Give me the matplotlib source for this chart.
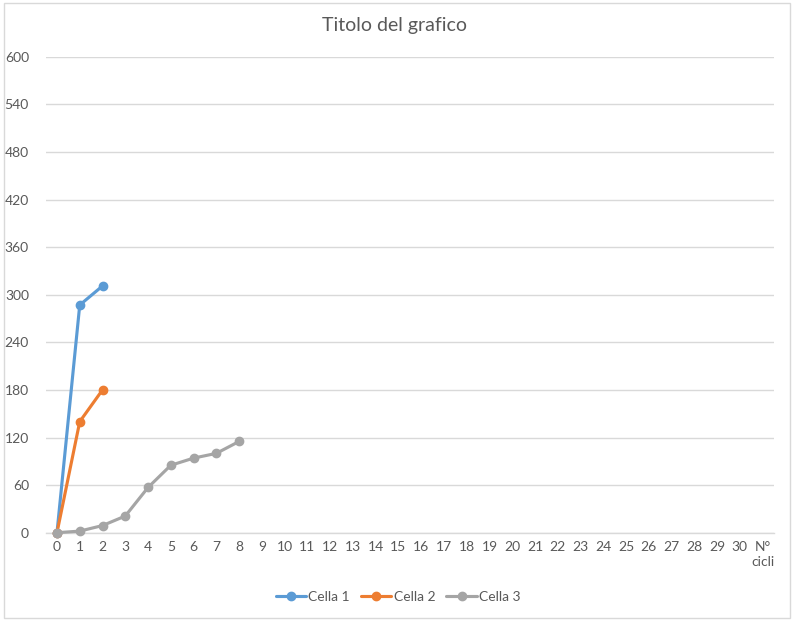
import matplotlib
matplotlib.use("Agg")
import matplotlib.pyplot as plt
from matplotlib.patches import Rectangle

plt.rcParams['font.family'] = ['Lato', 'DejaVu Sans']

categories = [str(i) for i in range(31)] + ["N°\ncicli"]
cella1 = [0, 287, 311]
cella2 = [0, 140, 180]
cella3 = [0, 2, 9, 21, 57, 85, 94, 100, 115]
series_names = ["Cella 1", "Cella 2", "Cella 3"]
series_colors = ["#5B9BD5", "#ED7D31", "#A5A5A5"]
yticks = list(range(0, 601, 60))
title = "Titolo del grafico"

fig = plt.figure(figsize=(7.95, 6.21), dpi=100)
fig.patch.set_facecolor("white")
fig.patches.append(Rectangle((4/795, 3/621), 786/795, 615/621, transform=fig.transFigure,
                             fill=False, edgecolor="#d9d9d9", linewidth=1))

ax = fig.add_axes([45.6/795, (621-532.7)/621, (774-45.6)/795, (532.7-56.7)/621])
for data, name, col in zip([cella1, cella2, cella3], series_names, series_colors):
    ax.plot(range(len(data)), data, color=col, linewidth=2.25, marker='o',
            markersize=6, label=name, solid_capstyle='round', zorder=3)

ax.set_xlim(-0.5, len(categories) - 0.5)
ax.set_ylim(0, 600)
ax.set_yticks(yticks)
ax.set_yticklabels([str(v) for v in yticks])
ax.set_xticks(range(len(categories)))
ax.set_xticklabels(categories, va='top', ha='center', linespacing=1.3)
ax.grid(axis='y', color='#d9d9d9', linewidth=1)
ax.set_axisbelow(True)
for s in ['top', 'right', 'left']:
    ax.spines[s].set_visible(False)
ax.spines['bottom'].set_color('#d9d9d9')
ax.spines['bottom'].set_linewidth(1)
ax.tick_params(axis='both', length=0, labelsize=10, colors='#595959')
ax.tick_params(axis='y', pad=12)
ax.tick_params(axis='x', pad=6)
for ln in ax.lines:
    ln.set_clip_on(False)

fig.text(395/795, 1 - 25/621, title, ha='center', va='center', fontsize=14, color='#595959')

leg = fig.legend(loc='center', bbox_to_anchor=(398/795, 1 - 597/621), ncol=3, frameon=False,
                 fontsize=10, handlelength=2.2, columnspacing=0.8, handletextpad=0.15,
                 labelcolor='#595959')
for h in leg.legend_handles:
    h.set_markersize(6)

fig.savefig("out.png", dpi=100, facecolor="white")
